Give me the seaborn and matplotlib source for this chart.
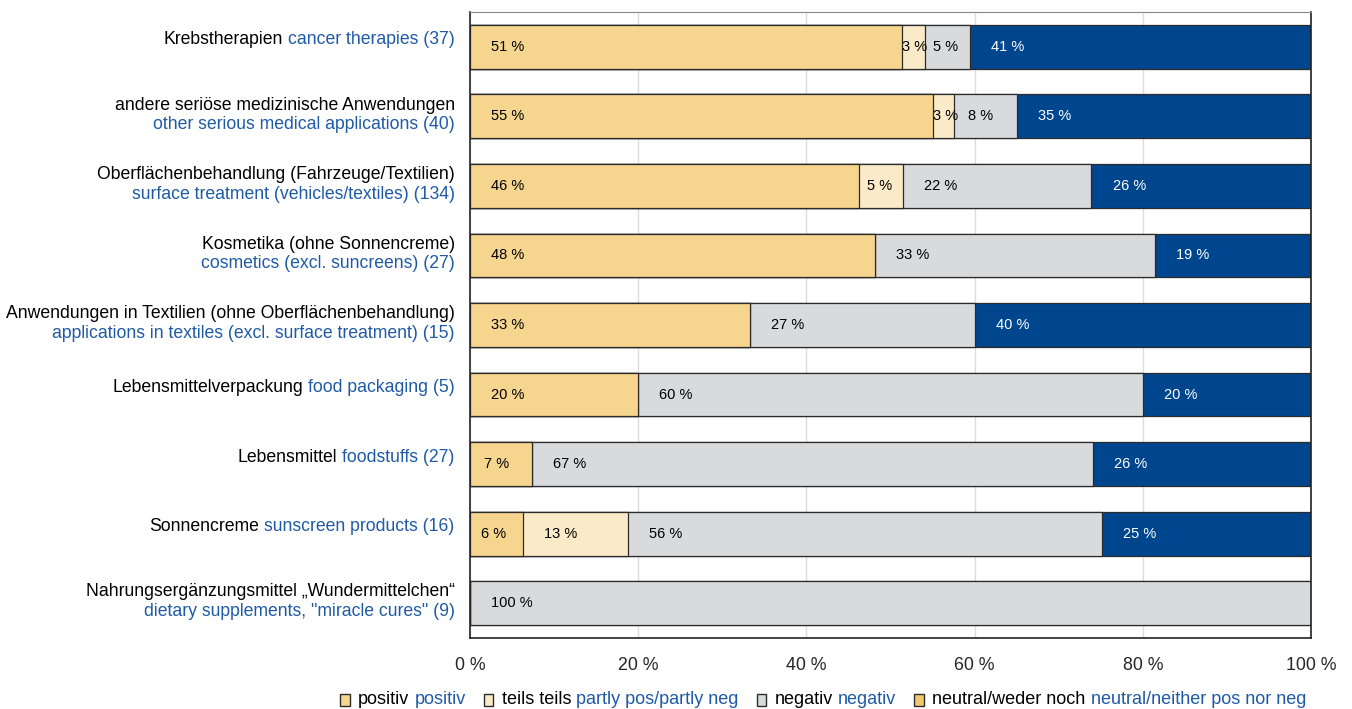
import pandas as pd
import matplotlib
matplotlib.use('Agg')
import matplotlib.pyplot as plt
import seaborn as sns
from matplotlib.offsetbox import TextArea, HPacker, VPacker, AnnotationBbox, DrawingArea
from matplotlib.patches import Rectangle

# categories: German text, English text, number of answers
labels_de = ['Krebstherapien',
             'andere seriöse medizinische Anwendungen',
             'Oberflächenbehandlung (Fahrzeuge/Textilien)',
             'Kosmetika (ohne Sonnencreme)',
             'Anwendungen in Textilien (ohne Oberflächenbehandlung)',
             'Lebensmittelverpackung',
             'Lebensmittel',
             'Sonnencreme',
             'Nahrungsergänzungsmittel \u201eWundermittelchen\u201c']
labels_en = ['cancer therapies',
             'other serious medical applications',
             'surface treatment (vehicles/textiles)',
             'cosmetics (excl. suncreens)',
             'applications in textiles (excl. surface treatment)',
             'food packaging',
             'foodstuffs',
             'sunscreen products',
             'dietary supplements, "miracle cures"']
n_answers = [37, 40, 134, 27, 15, 5, 27, 16, 9]
two_lines = [False, True, True, True, True, False, False, False, True]

# shares in percent
positiv = [51.4, 55.0, 46.3, 48.1, 33.3, 20.0, 7.4, 6.3, 0]
teils = [2.7, 2.5, 5.2, 0, 0, 0, 0, 12.5, 0]
negativ = [5.4, 7.5, 22.4, 33.3, 26.7, 60.0, 66.7, 56.3, 100]
neutral = [40.5, 35.0, 26.1, 18.5, 40.0, 20.0, 25.9, 25.0, 0]

c_pos = '#f6d58e'
c_teils = '#faeac8'
c_neg = '#d9dadc'
c_neutral = '#00468f'
c_legend_neutral = '#f2c96a'
c_blue_text = '#1f5aa6'
c_edge = '#2b2b2b'

sns.set_style('white')
plt.rcParams['font.family'] = ['Liberation Sans', 'DejaVu Sans']

df = pd.DataFrame({'cat': labels_de, 'positiv': positiv, 'teils': teils,
                   'negativ': negativ, 'neutral': neutral})
df['c1'] = df['positiv']
df['c2'] = df['c1'] + df['teils']
df['c3'] = df['c2'] + df['negativ']
df['c4'] = df['c3'] + df['neutral']

fig = plt.figure(figsize=(13.52, 7.09), dpi=100)
ax = fig.add_axes([470 / 1352, 1 - 638 / 709, 841 / 1352, 626 / 709])

# stacked bars: draw cumulative totals, longest first
for col, color in [('c4', c_neutral), ('c3', c_neg), ('c2', c_teils), ('c1', c_pos)]:
    sns.barplot(data=df, x=col, y='cat', orient='h', color=color, saturation=1,
                width=0.63, edgecolor=c_edge, linewidth=0.9, ax=ax)

ax.set_xlim(0, 100)
ax.set_ylim(8.5, -0.5)
ax.set_xticks([0, 20, 40, 60, 80, 100])
ax.set_xticklabels([f'{t} %' for t in range(0, 101, 20)], fontsize=12.8)
ax.tick_params(axis='x', length=0, pad=14)
ax.set_yticks([])
ax.set_xlabel('')
ax.set_ylabel('')
ax.xaxis.grid(True, color='#dcdcdc', lw=1)
ax.set_axisbelow(True)
for side in ['left', 'right', 'bottom']:
    ax.spines[side].set_color('#222222')
    ax.spines[side].set_linewidth(1.2)
ax.spines['top'].set_color('#888888')

# value labels inside the segments
for i in range(len(labels_de)):
    left = 0
    for vals, tcol in [(positiv, 'black'), (teils, 'black'), (negativ, 'black'), (neutral, 'white')]:
        w = vals[i]
        if w > 0:
            shown = int(w + 0.5)
            tw = 2.7 if shown < 10 else 3.7
            off = max(0, min(2.5, 0.35 * (w - tw)))
            ax.text(left + off, i, f'{shown} %', va='center', ha='left',
                    fontsize=10.5, color=tcol)
        left += w

# category labels: German black, English blue
for i in range(len(labels_de)):
    t_de = TextArea(labels_de[i], textprops=dict(color='black', fontsize=12.7))
    t_en = TextArea(f'{labels_en[i]} ({n_answers[i]})', textprops=dict(color=c_blue_text, fontsize=12.7))
    if two_lines[i]:
        box = VPacker(children=[t_de, t_en], align='right', pad=0, sep=2)
        yy = i - 0.02
    else:
        box = HPacker(children=[t_de, t_en], align='baseline', pad=0, sep=3.6)
        yy = i - 0.10
    ab = AnnotationBbox(box, (0, yy), xycoords=('axes fraction', 'data'),
                        xybox=(-11, 0), boxcoords='offset points',
                        box_alignment=(1, 0.5), frameon=False, pad=0)
    ax.add_artist(ab)

# legend at the bottom
legend_items = [(c_pos, 'positiv', 'positiv'),
                (c_teils, 'teils teils', 'partly pos/partly neg'),
                (c_neg, 'negativ', 'negativ'),
                (c_legend_neutral, 'neutral/weder noch', 'neutral/neither pos nor neg')]
entries = []
for color, de, en in legend_items:
    da = DrawingArea(7, 8, 0, 0)
    da.add_artist(Rectangle((0, 0), 7, 8, facecolor=color, edgecolor=c_edge, lw=1))
    txt = HPacker(children=[TextArea(de, textprops=dict(color='black', fontsize=13)),
                            TextArea(en, textprops=dict(color=c_blue_text, fontsize=13))],
                  align='baseline', pad=0, sep=3.6)
    entries.append(HPacker(children=[da, txt], align='center', pad=0, sep=6))
legend_box = HPacker(children=entries, align='center', pad=0, sep=13)
ab = AnnotationBbox(legend_box, (340 / 1352, 1 - 700 / 709), xycoords='figure fraction',
                    box_alignment=(0, 0.5), frameon=False, pad=0)
fig.add_artist(ab)

plt.savefig('out.png', dpi=100)
